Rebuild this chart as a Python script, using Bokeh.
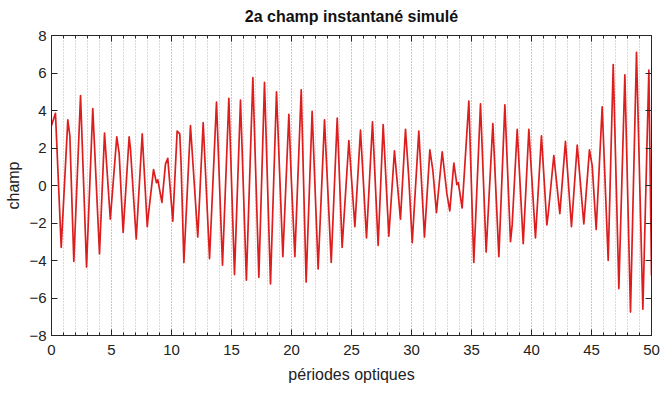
from bokeh.plotting import figure
from bokeh.models import Range1d, SingleIntervalTicker, Title, LinearAxis, CustomLabelingPolicy
from bokeh.embed import file_html
from bokeh.resources import INLINE

title_text = "2a champ instantané simulé"
x_label = "périodes optiques"
y_label = "champ"

# time (optical periods) of read turning points / shoulders
t = [0.0, 0.33, 0.81, 1.36, 1.53, 1.86, 2.42, 2.92, 3.44, 4.0,
     4.42, 4.9, 5.44, 5.64, 5.97, 6.47, 6.58, 7.06, 7.56, 7.98,
     8.05, 8.5, 8.75, 8.86, 9.2, 9.5, 9.69, 10.11, 10.47, 10.69,
     10.8, 11.03, 11.58, 12.19, 12.64, 13.17, 13.75, 14.25, 14.78, 15.25,
     15.75, 16.24, 16.78, 17.28, 17.75, 18.25, 18.75, 19.28, 19.78, 19.98,
     20.28, 20.81, 21.22, 21.72, 22.22, 22.75, 23.31, 23.81, 24.22, 24.78,
     25.28, 25.75, 26.25, 26.75, 27.22, 27.64, 28.11, 28.58, 29.08, 29.5,
     29.78, 30.06, 30.61, 31.08, 31.53, 31.78, 32.08, 32.56, 32.95, 33.19,
     33.53, 33.78, 33.9, 34.22, 34.78, 35.19, 35.75, 36.22, 36.78, 37.28,
     37.78, 38.25, 38.39, 38.81, 39.31, 39.78, 40.33, 40.83, 41.28, 41.38,
     41.86, 42.36, 42.83, 43.33, 43.81, 44.36, 44.83, 45.06, 45.39, 45.89,
     46.39, 46.81, 47.28, 47.78, 48.25, 48.75, 49.28, 49.78, 50.0]

# field value at those points
champ = [3.2, 3.85, -3.3, 3.5, 2.65, -4.05, 4.8, -4.35, 4.1, -3.65,
         2.8, -1.8, 2.6, 1.7, -2.5, 2.6, 1.95, -2.85, 2.75, -2.2,
         -1.7, 0.85, 0.15, 0.3, -0.9, 1.15, 1.45, -1.9, 2.9, 2.75,
         1.15, -4.1, 3.2, -2.75, 3.35, -3.9, 4.45, -4.25, 4.65, -4.75,
         4.55, -5.05, 5.75, -4.9, 5.5, -5.25, 5.0, -3.8, 3.8, 0.4,
         -3.8, 5.1, -5.15, 3.95, -4.45, 3.5, -4.1, 3.6, -3.3, 2.4,
         -2.2, 2.95, -2.8, 3.4, -3.2, 3.25, -2.7, 1.85, -1.8, 3.0,
         0.35, -3.05, 2.9, -2.75, 1.9, 0.8, -1.45, 1.8, -0.45, -1.35,
         1.2, 0.05, 0.15, -1.2, 4.5, -4.1, 4.35, -3.55, 3.3, -3.8,
         4.3, -3.0, -2.1, 3.0, -3.1, 3.0, -2.8, 2.65, -2.1, -1.6,
         1.6, -1.5, 2.35, -2.2, 2.15, -2.05, 1.9, 1.05, -2.35, 4.2,
         -4.0, 6.45, -5.5, 5.9, -6.75, 7.1, -6.6, 6.15, -4.8]

FONT = "Liberation Sans"
AX = "#262626"

p = figure(width=662, height=393, x_range=Range1d(0, 50), y_range=Range1d(-8, 8),
           output_backend="svg", toolbar_location=None,
           min_border_left=51, min_border_right=11, min_border_top=35, min_border_bottom=58)
p.background_fill_color = "white"
p.border_fill_color = "white"
p.outline_line_color = AX

p.xaxis.ticker = SingleIntervalTicker(interval=5, num_minor_ticks=5)
p.yaxis.ticker = SingleIntervalTicker(interval=2, num_minor_ticks=0)

for ax in (p.xaxis[0], p.yaxis[0]):
    ax.axis_line_color = AX
    ax.major_tick_line_color = AX
    ax.minor_tick_line_color = AX
    ax.major_tick_in = 6
    ax.major_tick_out = 0
    ax.minor_tick_in = 3
    ax.minor_tick_out = 0
    ax.major_label_text_font = FONT
    ax.major_label_text_font_size = "15px"
    ax.major_label_text_color = "#222222"
    ax.axis_label_text_font = FONT
    ax.axis_label_text_font_size = "16px"
    ax.axis_label_text_font_style = "normal"
    ax.axis_label_text_color = "#222222"

p.xaxis.axis_label = x_label
p.yaxis.axis_label = y_label
p.xaxis.major_label_standoff = 9
p.yaxis.major_label_standoff = 5
p.yaxis.axis_label_standoff = 4
p.xaxis.axis_label_standoff = 8

# box ticks on top and right, with no labels drawn
top = LinearAxis(ticker=SingleIntervalTicker(interval=5, num_minor_ticks=5),
                 major_label_policy=CustomLabelingPolicy(code="return new Set()"),
                 major_label_text_font_size="6px",
                 major_tick_in=6, major_tick_out=0, minor_tick_in=3, minor_tick_out=0,
                 axis_line_color=AX, major_tick_line_color=AX, minor_tick_line_color=AX,
                 major_label_standoff=0)
right = LinearAxis(ticker=SingleIntervalTicker(interval=2, num_minor_ticks=0),
                   major_label_policy=CustomLabelingPolicy(code="return new Set()"),
                   major_label_text_font_size="6px",
                   major_tick_in=6, major_tick_out=0, minor_tick_out=0,
                   axis_line_color=AX, major_tick_line_color=AX, major_label_standoff=0)
p.add_layout(top, "above")
p.add_layout(right, "right")

p.add_layout(Title(text=title_text, align="center", text_font=FONT, text_font_size="16px",
                   text_font_style="bold", text_color="#111111", standoff=8), "above")

p.xgrid[0].grid_line_color = "#b4b4b4"
p.xgrid[0].grid_line_dash = "1 2"
p.xgrid[0].minor_grid_line_color = "#b4b4b4"
p.xgrid[0].minor_grid_line_dash = "1 2"
p.ygrid[0].grid_line_color = None

p.line(t, champ, line_color="#dc1e1e", line_width=1.7, line_join="round")

open("out.html", "w").write(file_html(p, INLINE))
